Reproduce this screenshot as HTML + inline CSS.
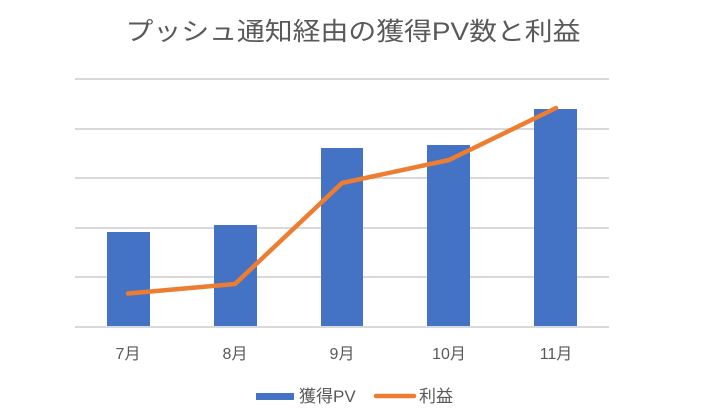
<!DOCTYPE html>
<html><head><meta charset="utf-8"><style>
body{margin:0;background:#fff}
svg text{font-family:"Liberation Sans","Noto Sans CJK JP",sans-serif;fill:#595959}
</style></head><body>
<svg width="708" height="410" xmlns="http://www.w3.org/2000/svg">
<rect width="708" height="410" fill="#fff"/>
<text x="353" y="40" font-size="25" text-anchor="middle" textLength="455" lengthAdjust="spacingAndGlyphs">プッシュ通知経由の獲得PV数と利益</text>
<g stroke="#d9d9d9" stroke-width="2">
<line x1="75" x2="609" y1="79" y2="79"/>
<line x1="75" x2="609" y1="129" y2="129"/>
<line x1="75" x2="609" y1="178" y2="178"/>
<line x1="75" x2="609" y1="228" y2="228"/>
<line x1="75" x2="609" y1="277" y2="277"/>
<line x1="75" x2="609" y1="327" y2="327"/>
</g>
<g fill="#4472c4">
<rect x="107" y="232" width="43" height="94"/>
<rect x="214" y="225" width="43" height="101"/>
<rect x="321" y="148" width="42" height="178"/>
<rect x="427" y="145" width="43" height="181"/>
<rect x="534" y="109" width="43" height="217"/>
</g>
<polyline points="128,293.5 235,284 342,183 449,160 556,108" fill="none" stroke="#ed7d31" stroke-width="4.5" stroke-linecap="round" stroke-linejoin="round"/>
<g font-size="16" text-anchor="middle">
<text x="128" y="359">7月</text>
<text x="235" y="359">8月</text>
<text x="342" y="359">9月</text>
<text x="449" y="359">10月</text>
<text x="556" y="359">11月</text>
</g>
<rect x="256" y="393" width="38" height="7" fill="#4472c4"/>
<text x="299" y="402" font-size="17">獲得PV</text>
<line x1="376" x2="414" y1="396" y2="396" stroke="#ed7d31" stroke-width="4.5" stroke-linecap="round"/>
<text x="419" y="402" font-size="17">利益</text>
</svg>
</body></html>
